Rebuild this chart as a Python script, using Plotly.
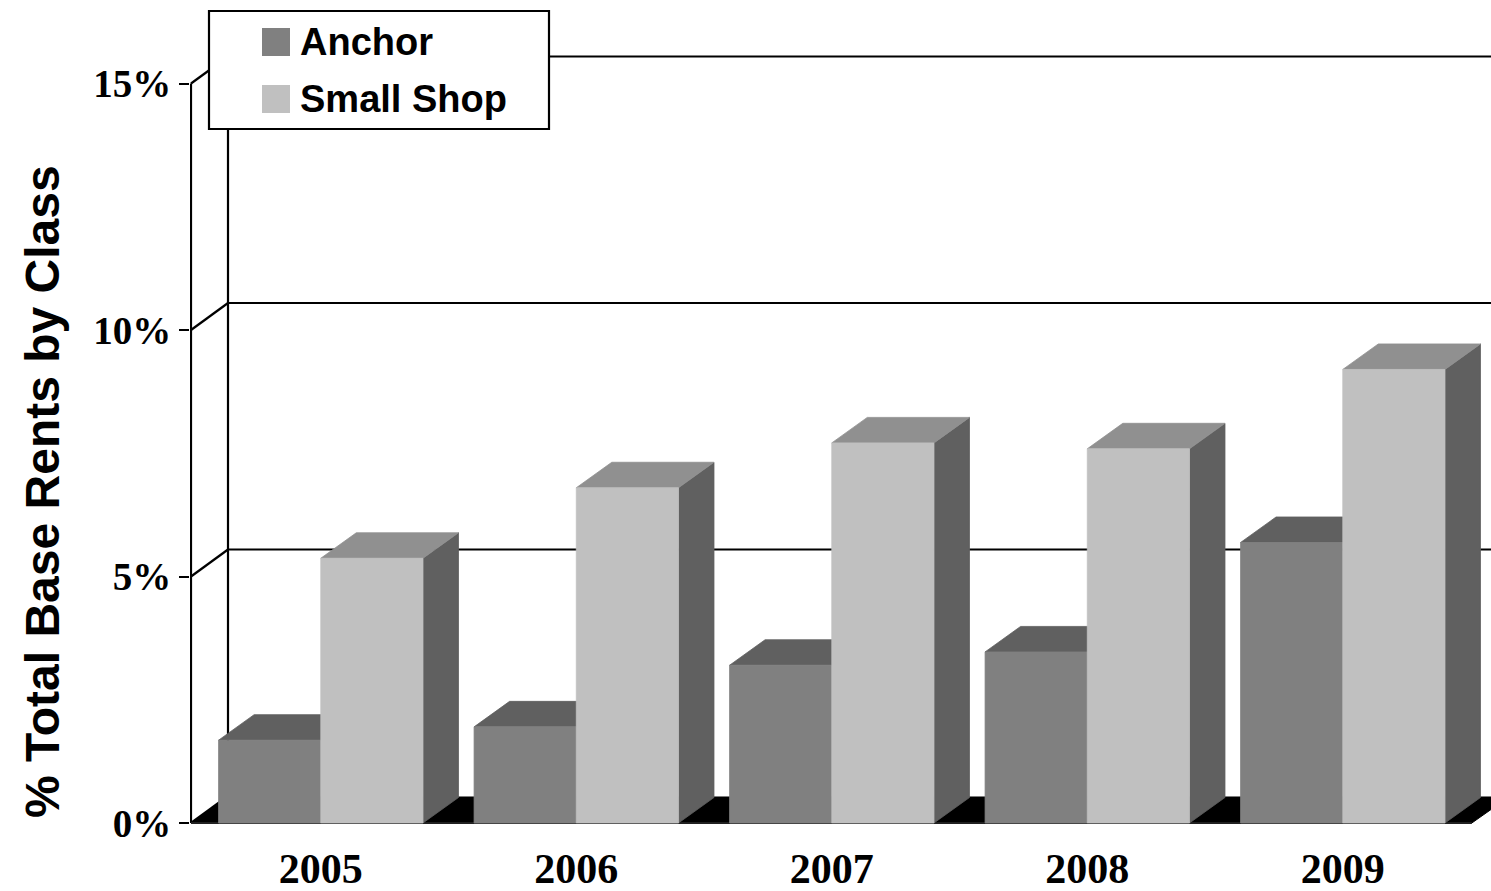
import plotly.graph_objects as go

# ---------------- data ----------------
years = ["2005", "2006", "2007", "2008", "2009"]
anchor = [1.68, 1.95, 3.20, 3.47, 5.69]
small_shop = [5.37, 6.80, 7.71, 7.59, 9.20]
series_names = ["Anchor", "Small Shop"]
y_tick_vals = [0, 5, 10, 15]
y_tick_text = ["0%", "5%", "10%", "15%"]
y_title = "% Total Base Rents by Class"

# ---------------- geometry / style ----------------
W, H = 1491, 891
ML, MR, MT, MB = 190, 0, 0, 65
PX_X = 255.5          # pixels per category unit
PX_Y = 49.3           # pixels per percentage point
BAR_W = 0.4
plot_w = W - ML - MR
plot_h = H - MT - MB
X_LEFT = -0.5 - 0.008
X_FLOOR_RIGHT = len(years) - 1 + 0.505
x_range = [X_LEFT - 1.0 / PX_X, X_LEFT - 1.0 / PX_X + plot_w / PX_X]
y_range = [-3.0 / PX_Y, -3.0 / PX_Y + plot_h / PX_Y]
DXW, DYW = 37 / PX_X, 27 / PX_Y      # wall depth offset
DXB, DYB = 35.5 / PX_X, 25.5 / PX_Y  # bar depth offset

C_ANCHOR = {"front": "#808080", "top": "#606060", "side": "#606060"}
C_SMALL = {"front": "#c0c0c0", "top": "#909090", "side": "#606060"}
GRID_W = 2.2

fig = go.Figure()

# ---- wall frame: side-wall diagonals, back vertical, back gridlines, front axis
gx, gy = [], []
top_tick = max(y_tick_vals)
for v in y_tick_vals:
    gx += [X_LEFT, X_LEFT + DXW, None]
    gy += [v, v + DYW, None]
    if v > 0:
        gx += [X_LEFT + DXW, x_range[1] + 1, None]
        gy += [v + DYW, v + DYW, None]
gx += [X_LEFT + DXW, X_LEFT + DXW, None, X_LEFT, X_LEFT, None]
gy += [DYW, top_tick + DYW, None, 0, top_tick, None]
fig.add_trace(go.Scatter(x=gx, y=gy, mode="lines",
                         line=dict(color="black", width=GRID_W),
                         hoverinfo="skip", showlegend=False))

# ---- floor
fig.add_trace(go.Scatter(
    x=[X_LEFT, X_FLOOR_RIGHT, X_FLOOR_RIGHT + DXW, X_LEFT + DXW, X_LEFT],
    y=[0, 0, DYW - 0.02, DYW - 0.02, 0],
    mode="lines", fill="toself", fillcolor="black",
    line=dict(color="black", width=1), hoverinfo="skip", showlegend=False))
fig.add_trace(go.Scatter(x=[X_LEFT, X_FLOOR_RIGHT], y=[0, 0], mode="lines",
                         line=dict(color="#202020", width=2),
                         hoverinfo="skip", showlegend=False))


# ---- 3D bars
def faces(values, offset):
    side_x, side_y, top_x, top_y, fr_x, fr_y = [], [], [], [], [], []
    for i, h in enumerate(values):
        x0 = i + offset
        x1 = x0 + BAR_W
        side_x += [x1, x1 + DXB, x1 + DXB, x1, x1, None]
        side_y += [0, DYB, h + DYB, h, 0, None]
        top_x += [x0, x1, x1 + DXB, x0 + DXB, x0, None]
        top_y += [h, h, h + DYB, h + DYB, h, None]
        fr_x += [x0, x1, x1, x0, x0, None]
        fr_y += [0, 0, h, h, 0, None]
    return (side_x, side_y), (top_x, top_y), (fr_x, fr_y)


for vals, off, col in [(anchor, -BAR_W, C_ANCHOR), (small_shop, 0.0, C_SMALL)]:
    side, top, front = faces(vals, off)
    for (fx, fy), key in [(side, "side"), (top, "top"), (front, "front")]:
        fig.add_trace(go.Scatter(x=fx, y=fy, mode="lines", fill="toself",
                                 fillcolor=col[key],
                                 line=dict(color=col[key], width=0.8),
                                 hoverinfo="skip", showlegend=False))

# ---- manual legend (box + swatches + labels), in pixel-derived paper coords
def px_x(px):
    return (px - ML) / plot_w


def px_y(py):
    return (H - MB - py) / plot_h


shapes = [dict(type="rect", xref="paper", yref="paper",
               x0=px_x(209), x1=px_x(549), y0=px_y(129), y1=px_y(11),
               fillcolor="white", line=dict(color="black", width=2.2), layer="above")]
annotations = []
leg_rows = [(28, 56, 42, C_ANCHOR["front"]), (85, 113, 99, C_SMALL["front"])]
for name, (t, b, mid, colr) in zip(series_names, leg_rows):
    shapes.append(dict(type="rect", xref="paper", yref="paper",
                       x0=px_x(262), x1=px_x(290), y0=px_y(b), y1=px_y(t),
                       fillcolor=colr, line=dict(width=0), layer="above"))
    annotations.append(dict(xref="paper", yref="paper", x=px_x(298), y=px_y(mid),
                            text=name, showarrow=False, xanchor="left", yanchor="middle",
                            font=dict(family="Liberation Sans", size=38, color="black",
                                      weight="bold")))

annotations.append(dict(xref="paper", yref="paper", x=px_x(42), y=px_y(492),
                        text=y_title, textangle=-90, showarrow=False,
                        xanchor="center", yanchor="middle",
                        font=dict(family="Liberation Sans", size=48, color="black",
                                  weight="bold")))

fig.update_layout(
    width=W, height=H,
    margin=dict(l=ML, r=MR, t=MT, b=MB, pad=0, autoexpand=False),
    paper_bgcolor="white", plot_bgcolor="white",
    shapes=shapes, annotations=annotations,
    showlegend=False,
    xaxis=dict(range=x_range, tickvals=list(range(len(years))), ticktext=years,
               showgrid=False, zeroline=False, showline=False, ticks="",
               ticklabelstandoff=14, automargin=False,
               tickfont=dict(family="Liberation Serif", size=42, color="black",
                             weight="bold"), fixedrange=True),
    yaxis=dict(range=y_range, tickvals=y_tick_vals, ticktext=y_tick_text,
               showgrid=False, zeroline=False, showline=False,
               ticks="outside", ticklen=10, tickwidth=GRID_W, tickcolor="black",
               ticklabelstandoff=0, automargin=False,
               tickfont=dict(family="Liberation Serif", size=39, color="black",
                             weight="bold"), fixedrange=True),
)

fig.write_html("out.html")
